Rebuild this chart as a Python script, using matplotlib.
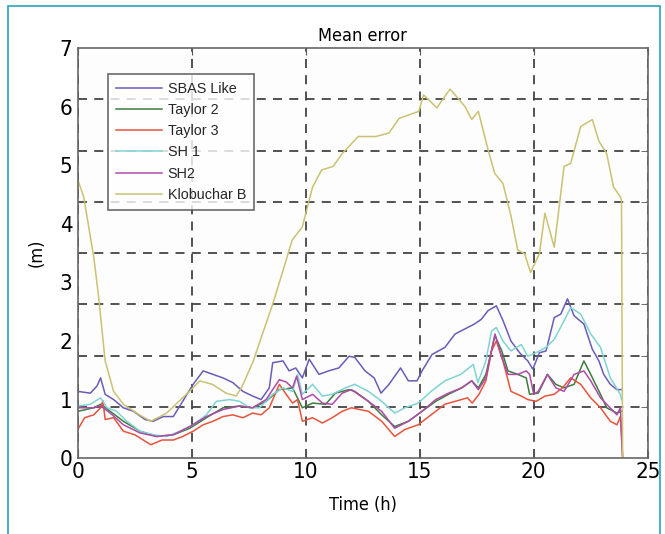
import matplotlib.pyplot as plt
from matplotlib.patches import Rectangle
from matplotlib.ticker import FixedLocator
from matplotlib import font_manager

# datos (horas, metros)
sbas_h = [0, 0.55, 0.84, 1.0, 1.2, 1.57, 2.0, 2.44, 2.95, 3.3, 3.75, 4.19, 4.6, 5.06, 5.5,
          5.93, 6.37, 6.8, 7.24, 7.67, 8.04, 8.4, 8.55, 9.0, 9.27, 9.56, 9.85, 10.15, 10.58,
          11.0, 11.45, 11.9, 12.15, 12.6, 13.0, 13.3, 13.65, 14.16, 14.5, 14.88, 15.1, 15.54,
          16.1, 16.55, 17.1, 17.4, 17.7, 18.0, 18.36, 18.65, 19.0, 19.38, 19.74, 19.96, 20.25,
          20.54, 20.9, 21.19, 21.48, 21.77, 22.2, 22.57, 22.86, 23.07, 23.36, 23.65, 23.85]
sbas_v = [1.14, 1.11, 1.23, 1.37, 1.09, 1.0, 0.86, 0.8, 0.66, 0.63, 0.71, 0.71, 0.97, 1.26, 1.49,
          1.43, 1.37, 1.29, 1.14, 1.06, 1.0, 1.2, 1.63, 1.66, 1.49, 1.54, 1.37, 1.69, 1.43,
          1.49, 1.54, 1.74, 1.72, 1.49, 1.37, 1.11, 1.26, 1.54, 1.32, 1.32, 1.49, 1.77,
          1.89, 2.12, 2.23, 2.29, 2.37, 2.52, 2.6, 2.35, 2.0, 1.8, 1.66, 1.52, 1.8,
          1.83, 2.4, 2.46, 2.72, 2.43, 2.29, 1.86, 1.66, 1.43, 1.26, 1.17, 1.17]

tay2_h = [0, 0.7, 1.0, 1.42, 2.0, 2.73, 3.46, 4.19, 4.91, 5.64, 6.37, 7.1, 7.67, 8.26, 8.84,
          9.42, 9.85, 10.3, 10.87, 11.3, 11.9, 12.15, 12.75, 13.33, 13.9, 14.5, 15.1, 15.7,
          16.26, 16.84, 17.28, 17.57, 17.9, 18.3, 18.6, 18.87, 19.3, 19.67, 19.82, 20.2, 20.6,
          20.97, 21.33, 21.77, 22.2, 22.5, 22.93, 23.2, 23.65, 23.85]
tay2_v = [0.8, 0.86, 0.92, 0.8, 0.63, 0.46, 0.37, 0.4, 0.51, 0.69, 0.86, 0.89, 0.86, 0.97, 1.17,
          1.2, 0.86, 0.94, 0.92, 1.11, 1.17, 1.14, 0.97, 0.74, 0.54, 0.63, 0.8, 0.97,
          1.09, 1.2, 1.32, 1.2, 1.43, 2.09, 1.83, 1.49, 1.43, 1.37, 1.09, 1.11, 1.43,
          1.26, 1.2, 1.26, 1.66, 1.43, 1.09, 0.86, 0.77, 0.8]

tay3_h = [0, 0.3, 0.7, 1.0, 1.1, 1.2, 1.57, 2.0, 2.5, 3.2, 3.7, 4.19, 4.6, 5.06, 5.5, 5.93,
          6.37, 6.8, 7.24, 7.67, 8.04, 8.4, 8.84, 9.14, 9.42, 9.64, 9.85, 10.3, 10.73, 11.16,
          11.6, 12.0, 12.75, 13.33, 13.9, 14.35, 14.93, 15.5, 16.1, 16.55, 17.1, 17.3, 17.6,
          17.9, 18.15, 18.36, 18.65, 19.0, 19.45, 19.74, 20.1, 20.5, 20.9, 21.26, 21.62, 22.06,
          22.5, 22.93, 23.36, 23.65, 23.8, 23.9]
tay3_v = [0.49, 0.69, 0.74, 0.86, 0.98, 0.66, 0.69, 0.46, 0.4, 0.23, 0.31, 0.31, 0.37, 0.46, 0.57, 0.63,
          0.71, 0.74, 0.69, 0.77, 0.74, 0.86, 1.26, 1.09, 0.94, 1.0, 0.63, 0.69, 0.6, 0.69,
          0.8, 0.86, 0.8, 0.63, 0.37, 0.49, 0.57, 0.74, 0.92, 0.97, 1.03, 0.94, 1.09,
          1.32, 1.83, 2.0, 1.66, 1.14, 1.06, 1.0, 0.97, 1.06, 1.09, 1.2, 1.37, 1.26,
          1.03, 0.86, 0.63, 0.57, 0.71, 0.0]

sh1_h = [0, 0.55, 1.0, 1.28, 1.7, 2.15, 2.73, 3.3, 3.9, 4.48, 5.06, 5.64, 6.08, 6.66, 7.1, 7.53,
         7.97, 8.55, 9.0, 9.42, 9.64, 9.85, 10.3, 10.73, 11.16, 11.74, 12.15, 12.75, 13.33, 13.9,
         14.35, 14.93, 15.5, 16.1, 16.8, 17.35, 17.55, 17.9, 18.15, 18.36, 18.65, 19.0, 19.45,
         19.74, 20.1, 20.54, 20.9, 21.26, 21.62, 22.06, 22.5, 22.93, 23.36, 23.8, 23.85]
sh1_v = [0.89, 0.92, 1.03, 0.86, 0.8, 0.63, 0.46, 0.4, 0.37, 0.46, 0.57, 0.74, 0.97, 1.0, 0.97, 0.86,
         0.86, 1.09, 1.2, 1.14, 1.43, 1.09, 1.26, 1.06, 1.09, 1.2, 1.26, 1.14, 0.97, 0.77,
         0.86, 0.94, 1.14, 1.32, 1.43, 1.6, 1.29, 1.66, 2.17, 2.23, 2.0, 1.83, 1.94,
         1.74, 1.8, 1.89, 2.03, 2.29, 2.57, 2.46, 2.12, 1.89, 1.37, 1.09, 1.0]

sh2_h = [0, 0.7, 1.0, 1.42, 2.0, 2.73, 3.46, 4.19, 4.91, 5.64, 6.37, 7.1, 7.67, 8.26, 8.84,
         9.14, 9.42, 9.6, 9.85, 10.3, 10.73, 11.16, 11.6, 12.0, 12.75, 13.33, 13.9, 14.5, 15.1,
         15.7, 16.26, 16.84, 17.28, 17.57, 17.9, 18.3, 18.6, 18.87, 19.3, 19.67, 19.82, 20.0,
         20.2, 20.6, 20.97, 21.33, 21.77, 22.2, 22.5, 22.93, 23.2, 23.65, 23.8, 23.9]
sh2_v = [0.86, 0.86, 0.89, 0.77, 0.57, 0.43, 0.37, 0.4, 0.54, 0.71, 0.83, 0.89, 0.86, 1.0, 1.34,
         1.3, 1.2, 1.4, 1.0, 1.09, 0.94, 0.92, 1.11, 1.17, 0.97, 0.8, 0.51, 0.63, 0.8,
         1.0, 1.11, 1.2, 1.32, 1.17, 1.37, 2.12, 1.72, 1.43, 1.43, 1.49, 1.43, 1.09,
         1.14, 1.43, 1.2, 1.14, 1.43, 1.49, 1.32, 1.03, 0.92, 0.74, 0.86, 0.0]

klob_h = [0, 0.26, 0.7, 0.9, 1.2, 1.57, 2.0, 2.7, 3.2, 3.9, 4.3, 4.9, 5.35, 5.9, 6.5, 6.95, 7.25,
          7.7, 8.1, 8.55, 9.0, 9.4, 9.85, 10.3, 10.7, 11.2, 11.6, 12.3, 13.07, 13.65, 14.1, 14.96,
          15.17, 15.75, 16.33, 16.99, 17.28, 17.57, 18.0, 18.29, 18.65, 19.01, 19.3, 19.6, 19.86,
          20.25, 20.49, 20.9, 21.33, 21.62, 22.06, 22.57, 22.86, 23.2, 23.5, 23.8, 23.85, 23.9]
klob_v = [4.75, 4.46, 3.43, 2.8, 1.66, 1.14, 0.92, 0.74, 0.63, 0.77, 0.92, 1.14, 1.32, 1.26, 1.11, 1.06, 1.26,
          1.66, 2.12, 2.63, 3.2, 3.72, 3.95, 4.63, 4.92, 4.98, 5.2, 5.49, 5.49, 5.55, 5.8, 5.92,
          6.2, 5.98, 6.3, 6.0, 5.78, 5.92, 5.26, 4.86, 4.69, 4.12, 3.55, 3.49, 3.17,
          3.49, 4.18, 3.6, 4.98, 5.03, 5.66, 5.78, 5.41, 5.2, 4.63, 4.46, 4.4, 0.0]

series = [
    ("SBAS Like", sbas_h, sbas_v, "#6a5cb8"),
    ("Taylor 2", tay2_h, tay2_v, "#3d7d3d"),
    ("Taylor 3", tay3_h, tay3_v, "#e8533c"),
    ("SH 1", sh1_h, sh1_v, "#7fd3d3"),
    ("SH2", sh2_h, sh2_v, "#b04aa8"),
    ("Klobuchar B", klob_h, klob_v, "#c9c272"),
]

y_labels = [0, 1, 2, 3, 4, 5, 6, 7]
x_ticks = [0, 5, 10, 15, 20, 25]

# fuente estrecha si existe
cond = [f.fname for f in font_manager.fontManager.ttflist
        if 'Condensed' in f.fname and 'DejaVuSans' in f.fname and 'Bold' not in f.fname
        and 'Oblique' not in f.fname]
if cond:
    fp_cond = font_manager.FontProperties(fname=cond[0])
else:
    fp_cond = font_manager.FontProperties(family='DejaVu Sans', stretch='condensed')

fig = plt.figure(figsize=(6.65, 5.34), dpi=100)
fig.patches.append(Rectangle((0.012, -0.05), 0.981, 1.039, transform=fig.transFigure,
                             fill=False, edgecolor="#2aa3bd", linewidth=1.2))
ax = fig.add_axes([0.117, 0.142, 0.857, 0.768])

for name, h, v, c in series:
    ax.plot(h, v, color=c, linewidth=1.1, label=name)

ax.set_xlim(0, 25)
ax.set_ylim(0, 7)
ax.set_xticks(x_ticks)
ax.set_yticks(y_labels)
ax.set_yticklabels([str(t) for t in y_labels])
# la rejilla original tiene 8 divisiones, no coincide con las etiquetas
ax.yaxis.set_minor_locator(FixedLocator([k * 7 / 8 for k in range(1, 8)]))
ax.tick_params(axis='y', which='major', length=0, pad=4)
ax.tick_params(axis='y', which='minor', direction='in', length=5, right=True, color="#555555")
ax.tick_params(axis='x', which='major', direction='in', length=5, top=True,
               color="#555555", pad=3)
for lbl in ax.get_xticklabels() + ax.get_yticklabels():
    lbl.set_fontproperties(fp_cond)
    lbl.set_fontsize(16)

ax.grid(True, which='minor', axis='y', linestyle=(0, (5, 4)), color="#444444", linewidth=1.3)
ax.grid(True, which='major', axis='x', linestyle=(0, (5, 4)), color="#444444", linewidth=1.3)
for s in ax.spines.values():
    s.set_color("#666666")
    s.set_linewidth(1.2)
ax.set_facecolor("#fdfdfd")

t = ax.set_title("Mean error", pad=5)
t.set_fontproperties(fp_cond)
t.set_fontsize(13)
xl = ax.set_xlabel("Time (h)", labelpad=10)
xl.set_fontproperties(fp_cond)
xl.set_fontsize(13)
yl = ax.set_ylabel("(m)", labelpad=10)
yl.set_fontproperties(fp_cond)
yl.set_fontsize(13)

leg = ax.legend(loc='upper left', bbox_to_anchor=(0.04, 0.955), handlelength=3.2,
                labelspacing=0.5, frameon=True, fancybox=False, borderpad=0.55, handletextpad=0.4,
                prop={'family': ['Liberation Sans', 'DejaVu Sans'], 'size': 10.4})
leg.get_frame().set_edgecolor("#444444")
leg.get_frame().set_linewidth(1.2)
for tx in leg.get_texts():
    tx.set_color("#262626")

fig.savefig("out.png", dpi=100)
